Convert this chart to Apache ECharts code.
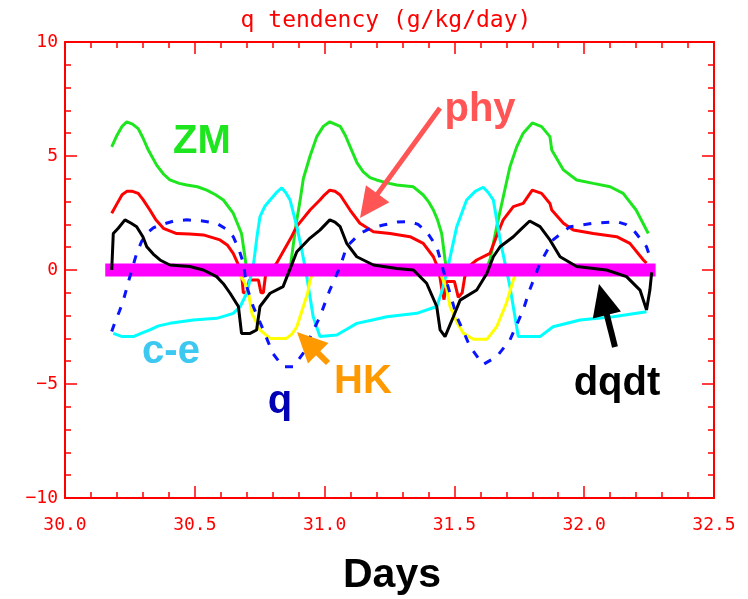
<!DOCTYPE html>
<html>
<head>
<meta charset="utf-8">
<script src="https://cdn.jsdelivr.net/npm/echarts@6/dist/echarts.min.js"></script>
<style>
html,body{margin:0;padding:0;background:#fff;}
#chart{width:748px;height:599px;}
</style>
</head>
<body>
<div id="chart"></div>
<script>
// ---- data (day, tendency g/kg/day) ----
const zmData = [[30.18,5.4],[30.2,5.9],[30.22,6.3],[30.238,6.5],[30.26,6.4],[30.282,6.2],[30.30,5.8],[30.321,5.26],[30.353,4.6],[30.38,4.2],[30.404,3.95],[30.44,3.8],[30.469,3.73],[30.51,3.65],[30.546,3.5],[30.58,3.3],[30.61,3.07],[30.648,2.49],[30.68,1.6],[30.693,0.58],[30.70,0.0],[30.75,-0.1],[30.80,-0.1],[30.85,0.0],[30.87,0.3],[30.89,2.0],[30.905,3.0],[30.918,4.0],[30.944,5.0],[30.97,5.85],[30.995,6.3],[31.02,6.5],[31.06,6.3],[31.08,5.9],[31.104,5.26],[31.125,4.7],[31.149,4.3],[31.175,4.05],[31.2,3.95],[31.24,3.82],[31.278,3.73],[31.342,3.65],[31.38,3.29],[31.40,3.0],[31.419,2.63],[31.435,2.2],[31.451,1.6],[31.464,0.44],[31.47,0.0],[31.55,-0.1],[31.62,0.0],[31.637,0.44],[31.663,1.9],[31.69,3.3],[31.714,4.53],[31.74,5.4],[31.765,6.0],[31.80,6.45],[31.836,6.29],[31.868,5.85],[31.875,5.26],[31.92,4.39],[31.971,3.95],[32.035,3.8],[32.1,3.65],[32.15,3.36],[32.2,2.63],[32.247,1.6]];
const phyData = [[30.18,2.49],[30.2,2.9],[30.22,3.3],[30.238,3.45],[30.26,3.45],[30.282,3.36],[30.30,3.1],[30.327,2.63],[30.35,2.2],[30.379,1.83],[30.43,1.6],[30.48,1.58],[30.533,1.54],[30.597,1.32],[30.625,1.1],[30.648,0.73],[30.665,0.3],[30.68,-0.15],[30.687,-1.0],[30.70,-1.0],[30.71,-0.44],[30.745,-0.44],[30.755,-1.0],[30.764,-1.0],[30.775,0.0],[30.80,0.1],[30.815,0.3],[30.84,0.8],[30.87,1.4],[30.892,1.9],[30.944,2.63],[30.982,3.07],[31.0,3.3],[31.02,3.5],[31.04,3.45],[31.06,3.29],[31.098,2.63],[31.136,2.05],[31.188,1.68],[31.252,1.6],[31.329,1.46],[31.38,1.17],[31.419,0.58],[31.44,0.0],[31.451,-0.8],[31.46,-1.3],[31.47,-0.5],[31.50,-0.5],[31.515,-1.2],[31.53,-1.0],[31.54,-0.3],[31.56,0.2],[31.586,0.44],[31.637,0.73],[31.663,1.5],[31.688,2.2],[31.727,2.78],[31.765,2.92],[31.80,3.5],[31.836,3.36],[31.868,2.92],[31.875,2.63],[31.92,2.05],[31.958,1.75],[32.035,1.6],[32.125,1.46],[32.176,1.17],[32.228,0.44],[32.24,0.3]];
const ceData = [[30.186,-2.78],[30.22,-2.92],[30.263,-2.92],[30.3,-2.75],[30.327,-2.63],[30.36,-2.45],[30.404,-2.34],[30.494,-2.19],[30.584,-2.12],[30.62,-2.0],[30.648,-1.9],[30.675,-1.6],[30.70,-1.02],[30.725,0.15],[30.74,1.5],[30.751,2.34],[30.77,2.8],[30.79,3.07],[30.815,3.4],[30.835,3.6],[30.85,3.4],[30.867,3.07],[30.893,1.9],[30.91,1.0],[30.93,-0.2],[30.956,-2.05],[30.982,-2.92],[31.047,-2.85],[31.085,-2.6],[31.124,-2.34],[31.18,-2.2],[31.24,-2.05],[31.355,-1.9],[31.432,-1.6],[31.45,-1.0],[31.47,-0.15],[31.509,1.9],[31.547,3.07],[31.58,3.45],[31.611,3.63],[31.63,3.4],[31.65,3.07],[31.676,1.32],[31.714,-0.73],[31.746,-2.92],[31.83,-2.92],[31.88,-2.49],[31.984,-2.19],[32.112,-2.05],[32.24,-1.83]];
const hkData = [[30.18,0],[30.66,0],[30.69,-0.5],[30.705,-0.9],[30.72,-1.9],[30.751,-2.63],[30.79,-3.0],[30.853,-3.0],[30.875,-2.8],[30.893,-2.49],[30.918,-1.6],[30.935,-1.0],[30.944,-0.44],[30.96,0],[31.44,0],[31.47,-0.8],[31.483,-1.6],[31.51,-2.3],[31.535,-2.78],[31.573,-3.04],[31.625,-3.04],[31.663,-2.49],[31.70,-1.46],[31.727,-0.44],[31.74,0],[32.26,0]];
const qData = [[30.18,-2.7],[30.193,-2.27],[30.21,-1.8],[30.225,-1.32],[30.25,-0.29],[30.276,0.73],[30.295,1.25],[30.315,1.6],[30.34,1.85],[30.366,1.97],[30.42,2.15],[30.469,2.2],[30.53,2.15],[30.584,2.05],[30.62,1.8],[30.648,1.46],[30.67,0.9],[30.687,0.3],[30.70,-0.73],[30.725,-1.6],[30.764,-2.63],[30.80,-3.65],[30.84,-4.24],[30.88,-4.24],[30.918,-3.65],[30.95,-2.8],[30.982,-2.05],[31.02,-0.88],[31.06,0.15],[31.085,1.02],[31.136,1.6],[31.18,1.85],[31.226,1.97],[31.28,2.1],[31.329,2.12],[31.36,2.0],[31.393,1.68],[31.432,1.02],[31.457,0],[31.483,-1.02],[31.509,-2.05],[31.535,-2.7],[31.56,-3.36],[31.61,-4.15],[31.663,-3.8],[31.714,-3.07],[31.74,-2.4],[31.765,-1.75],[31.79,-0.88],[31.80,-0.58],[31.83,0.3],[31.88,1.32],[31.945,1.9],[32.035,2.05],[32.125,2.12],[32.16,2.0],[32.19,1.75],[32.24,1.02],[32.253,0.58]];
const dqdtData = [[30.18,0],[30.186,1.6],[30.205,1.83],[30.231,2.2],[30.255,2.05],[30.276,1.9],[30.30,1.46],[30.315,1.02],[30.34,0.7],[30.366,0.44],[30.404,0.22],[30.48,0.15],[30.533,0.0],[30.584,-0.29],[30.61,-0.6],[30.636,-1.02],[30.668,-1.6],[30.68,-2.78],[30.713,-2.78],[30.738,-2.63],[30.751,-1.6],[30.79,-1.02],[30.84,-0.73],[30.867,0.05],[30.893,0.8],[30.944,1.4],[30.982,1.75],[31.02,2.2],[31.04,2.1],[31.06,1.9],[31.085,1.17],[31.124,0.58],[31.188,0.22],[31.278,0.07],[31.342,0.0],[31.393,-0.58],[31.432,-1.6],[31.445,-2.63],[31.464,-2.92],[31.496,-2.05],[31.522,-1.32],[31.586,-0.88],[31.625,-0.15],[31.65,0.58],[31.676,1.02],[31.727,1.46],[31.753,1.75],[31.79,2.15],[31.83,1.9],[31.868,1.32],[31.907,0.58],[31.971,0.15],[32.086,0.0],[32.163,-0.29],[32.215,-0.88],[32.24,-1.75],[32.253,-0.88],[32.26,-0.1]];
const zeroData = [[30.155,0],[32.275,0]];

const xTicks = [30.0, 30.5, 31.0, 31.5, 32.0, 32.5];
const yTicks = [-10, -5, 0, 5, 10];

const RED = '#ff0000';
const chart = echarts.init(document.getElementById('chart'));

function arrow(x1, y1, x2, y2, color, shaftW, headLen, headW) {
  const dx = x2 - x1, dy = y2 - y1, L = Math.hypot(dx, dy);
  const ux = dx / L, uy = dy / L, nx = -uy, ny = ux;
  const bx = x2 - ux * headLen, by = y2 - uy * headLen;
  return [
    {type: 'line', z: 100, shape: {x1: x1, y1: y1, x2: bx + ux * 2, y2: by + uy * 2},
     style: {stroke: color, lineWidth: shaftW}},
    {type: 'polygon', z: 100, shape: {points: [[x2, y2], [bx + nx * headW / 2, by + ny * headW / 2], [bx - nx * headW / 2, by - ny * headW / 2]]},
     style: {fill: color}}
  ];
}
function label(text, x, y, color) {
  return {type: 'text', z: 100, x: x, y: y,
    style: {text: text, fill: color, font: 'bold 40px "Liberation Sans", Arial, sans-serif', textAlign: 'center', textVerticalAlign: 'middle'}};
}

const axisCommon = {
  type: 'value',
  axisLine: {show: true, onZero: false, lineStyle: {color: RED, width: 2}},
  axisTick: {show: true, inside: true, length: 12, lineStyle: {color: RED, width: 1.5}},
  minorTick: {show: true, splitNumber: 5, length: 6, lineStyle: {color: RED, width: 1.5}},
  splitLine: {show: false},
  minorSplitLine: {show: false}
};
const labelFont = {color: RED, fontFamily: '"DejaVu Sans Mono", monospace', fontSize: 18};

function lineSeries(data, color, width, extra) {
  return Object.assign({
    type: 'line', data: data, symbol: 'none', silent: true, animation: false,
    lineStyle: {color: color, width: width}
  }, extra || {});
}

chart.setOption({
  animation: false,
  backgroundColor: '#fff',
  grid: {left: 65, right: 34, top: 42, bottom: 101},
  xAxis: [
    Object.assign({}, axisCommon, {position: 'bottom', min: xTicks[0], max: xTicks[xTicks.length - 1], interval: 0.5,
      axisLabel: Object.assign({}, labelFont, {margin: 18, formatter: v => v.toFixed(1)})}),
    Object.assign({}, axisCommon, {position: 'top', min: xTicks[0], max: xTicks[xTicks.length - 1], interval: 0.5,
      axisLabel: {show: false}})
  ],
  yAxis: [
    Object.assign({}, axisCommon, {position: 'left', min: yTicks[0], max: yTicks[yTicks.length - 1], interval: 5,
      axisLabel: Object.assign({}, labelFont, {margin: 7, formatter: v => String(v).replace('-', '\u2212')})}),
    Object.assign({}, axisCommon, {position: 'right', min: yTicks[0], max: yTicks[yTicks.length - 1], interval: 5,
      axisLabel: {show: false}})
  ],
  series: [
    lineSeries(zmData, '#1ee61e', 3, {z: 2}),
    lineSeries(phyData, '#ff0000', 3, {z: 3}),
    lineSeries(ceData, '#00ffff', 3, {z: 4}),
    lineSeries(hkData, '#ffff00', 3, {z: 5}),
    lineSeries(zeroData, '#ff00ff', 13, {z: 6}),
    lineSeries(qData, '#0a14ff', 3, {z: 7, lineStyle: {color: '#0a14ff', width: 3, type: [8, 10]}}),
    lineSeries(dqdtData, '#000000', 3, {z: 8})
  ],
  graphic: [
    {type: 'text', x: 386, y: 21, style: {text: 'q tendency (g/kg/day)', fill: RED,
      font: '23px "DejaVu Sans Mono", monospace', textAlign: 'center', textVerticalAlign: 'middle'}},
    label('ZM', 202, 142, '#1ee61e'),
    label('phy', 480, 110, '#ff5555'),
    label('c-e', 171, 352, '#3cc8f0'),
    label('q', 280, 402, '#0000b4'),
    label('HK', 363, 382, '#ff9900'),
    label('dqdt', 617, 384, '#000000'),
    {type: 'text', x: 392, y: 576, style: {text: 'Days', fill: '#000',
      font: 'bold 41px "Liberation Sans", Arial, sans-serif', textAlign: 'center', textVerticalAlign: 'middle'}}
  ].concat(
    arrow(440, 108, 360, 218, '#ff5555', 5, 30, 29),
    arrow(328, 363, 297, 332, '#ff9900', 6, 30, 29),
    arrow(615, 347, 599, 284, '#000000', 6, 32, 29)
  )
});
</script>
</body>
</html>
